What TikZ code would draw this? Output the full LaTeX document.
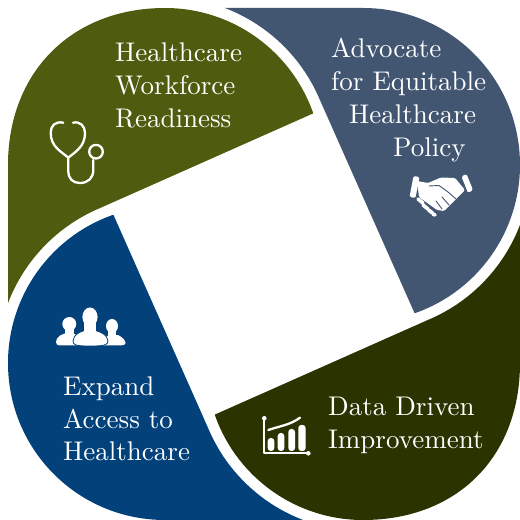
\documentclass[tikz,border=0pt]{standalone}
\usepackage{fontspec}
\setmainfont{lmroman10-regular}[Extension=.otf]
\definecolor{olivepetal}{HTML}{4F5B0E}
\definecolor{slatepetal}{HTML}{425671}
\definecolor{darkpetal}{HTML}{2B3400}
\definecolor{navypetal}{HTML}{02417A}
\tikzset{
    labeltext/.style={anchor=base west, inner sep=0pt, align=left, text=white,
        font=\fontsize{27}{33}\selectfont},
    iconline/.style={draw=white, line width=2.3pt, line cap=round, line join=round},
    iconfill/.style={fill=white, rounded corners=3pt},
    handgap/.style={draw=slatepetal, line width=0.9pt, line cap=round},
}
% #3 is the pull of the outer corner, 87 for a true quarter circle
\newcommand{\petal}[3]{
    \fill[#2, rotate around={#1:(264,256)}]
        (8,217) -- (8,355) .. controls (8,355+#3) and (165-#3,512) .. (165,512)
        arc[start angle=90, end angle=19.2, radius=157]
        -- (100.4,312.1) arc[start angle=112.6, end angle=159.1, radius=168] -- cycle;
}

\begin{document}
\begin{tikzpicture}[x=1pt, y=1pt]
    \useasboundingbox (0,0) rectangle (520,520);

    \petal{0}{olivepetal}{93}
    \petal{-90}{slatepetal}{87}
    \petal{-180}{darkpetal}{94}
    \petal{-270}{navypetal}{87}

    \begin{scope}[shift={(0,520)}, y=-1pt]
        % labels
        \node [labeltext] (workforce) at (115,128) {Healthcare\\Workforce\\Readiness};
        \node [labeltext] (policy) at (331,157) {Advocate\\for Equitable\\\hspace*{18pt}Healthcare\\\hspace*{62pt}Policy};
        \node [labeltext] (data) at (328,449) {Data Driven\\Improvement};
        \node [labeltext] (access) at (63,461) {Expand\\Access to\\Healthcare};

        % stethoscope
        \draw [iconline] (63.3,122.7) .. controls (55,121) and (50.7,126) .. (50.7,133)
            .. controls (50.7,147) and (62,152) .. (68.3,157.7)
            .. controls (75,152) and (85,147) .. (85,133)
            .. controls (85,126) and (80,121) .. (73,122.7);
        \draw [iconline] (68.3,157.7) -- (68.3,171)
            .. controls (68.3,179) and (73,183) .. (80,183)
            .. controls (88,183) and (93.3,178) .. (93.3,170) -- (93.3,160);
        \draw [iconline] (96,151.7) circle (6.8);

        % handshake
        \fill [white, rounded corners=1.5pt] (413.5,176) -- (419.5,177) -- (415.5,198) -- (409.5,197) -- cycle;
        \fill [white, rounded corners=1.5pt] (461.5,176.5) -- (466.5,174) -- (473,190) -- (468,193) -- cycle;
        \fill [fill=white, rounded corners=1.2pt] (417,181) -- (428,183) -- (441,177.5) -- (455,178) -- (465,190)
            -- (456,199) -- (444,211) -- (437,210) -- (419,197) -- cycle;
        \draw [handgap] (429,186) -- (439,185.5) -- (448,192) -- (456,199);
        \draw [handgap] (436,201) -- (442,209);
        \draw [handgap] (442,197) -- (449,205);
        \draw [iconline, line width=3.6pt] (418,199) -- (423,203);
        \draw [iconline, line width=3.6pt] (423,205) -- (428,209);
        \draw [iconline, line width=3.6pt] (428.5,210) -- (432.5,213);
        \draw [iconline, line width=3.6pt] (433,214) -- (435,215);

        % people
        \fill [white] (69.3,324) ellipse (7 and 7);
        \fill [white] (65,326) rectangle (74,336);
        \fill [white] (56,342) .. controls (56,337) and (62,333) .. (69,333)
            .. controls (76,333) and (82,337) .. (84,344) -- (76,345.5) -- (60,345.5)
            .. controls (57,345.5) and (56,344) .. (56,342) -- cycle;
        \fill [white] (112,326) ellipse (6 and 7);
        \fill [white] (108,328) rectangle (116,337);
        \fill [white] (102,345.5) -- (105,336) -- (118,335) .. controls (122,337) and (125.5,340) .. (125.5,343)
            .. controls (125.5,345) and (122,345.5) .. (118,345.5) -- cycle;
        \fill [white, draw=navypetal, line width=0.8pt] (73,341) .. controls (73,335) and (81,330) .. (90,330)
            .. controls (99,330) and (108,335) .. (108,341)
            .. controls (108,345.5) and (103,346) .. (90,346)
            .. controls (77,346) and (73,345.5) .. (73,341) -- cycle;
        \fill [white] (90,317) ellipse (7.6 and 9.5);
        \fill [white] (84,320) rectangle (96,333);

        % chart
        \draw [iconline] (264.3,418.3) -- (264.3,453.3) -- (308.3,453.3);
        \fill [white] (264.3,418.3) circle (2.3) (308.3,453.3) circle (2.3);
        \draw [iconline] (268.3,430) .. controls (280,426) and (290,425) .. (300,417.7);
        \fill [iconfill] (267.7,451) -- (267.7,438) -- (274.3,438) -- (274.3,451) -- cycle;
        \fill [iconfill] (277.7,451) -- (277.7,433) -- (284.3,433) -- (284.3,451) -- cycle;
        \fill [iconfill] (288.3,451) -- (288.3,429) -- (295,429) -- (295,451) -- cycle;
        \fill [iconfill] (298.3,451) -- (298.3,425) -- (305.7,425) -- (305.7,451) -- cycle;
    \end{scope}
\end{tikzpicture}
\end{document}
